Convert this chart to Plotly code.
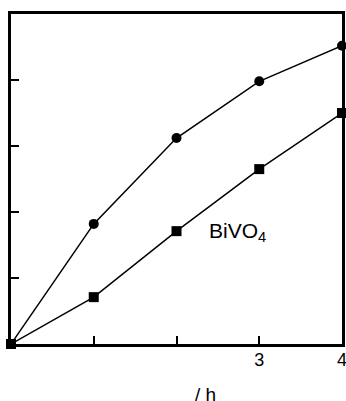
import plotly.graph_objects as go

time_h = [0, 1, 2, 3, 4]
series_circle = [0, 1.82, 3.12, 3.98, 4.52]
series_square = [0, 0.71, 1.71, 2.65, 3.5]
x_tickvals = [1, 2, 3, 4]
x_ticktext = ["", "", "3", "4"]
y_tickvals = [1, 2, 3, 4]

FONT = "Liberation Sans, Arial, sans-serif"

fig = go.Figure()
fig.add_trace(go.Scatter(x=time_h, y=series_circle, mode="lines+markers",
                         line=dict(color="black", width=1.5),
                         marker=dict(symbol="circle", size=10, color="black"),
                         cliponaxis=False, showlegend=False))
fig.add_trace(go.Scatter(x=time_h, y=series_square, mode="lines+markers",
                         line=dict(color="black", width=1.5),
                         marker=dict(symbol="square", size=10, color="black"),
                         cliponaxis=False, showlegend=False))

fig.add_annotation(x=2.37, y=1.7, xref="x", yref="y", text="BiVO<sub>4</sub>",
                   showarrow=False, xanchor="left", yanchor="middle",
                   font=dict(family=FONT, size=21, color="black"))
fig.add_annotation(x=0.589, y=-0.152, xref="paper", yref="paper", text="/ h",
                   showarrow=False, xanchor="center", yanchor="middle",
                   font=dict(family=FONT, size=19, color="black"))

fig.update_layout(
    width=346, height=401,
    margin=dict(l=11, r=4, t=14, b=57, autoexpand=False),
    paper_bgcolor="white", plot_bgcolor="white",
    font=dict(family=FONT, size=18, color="black"),
    xaxis=dict(range=[0, 4], tickvals=x_tickvals, ticktext=x_ticktext,
               ticks="inside", ticklen=8, tickwidth=2, tickcolor="black",
               showline=True, linecolor="black", linewidth=3, mirror=True,
               showgrid=False, zeroline=False, automargin=False,
               ticklabeloverflow="allow", ticklabelstandoff=-3,
               tickfont=dict(family=FONT, size=18, color="black")),
    yaxis=dict(range=[0, 5], tickvals=y_tickvals, showticklabels=False,
               ticks="inside", ticklen=8, tickwidth=2, tickcolor="black",
               showline=True, linecolor="black", linewidth=3, mirror=True,
               showgrid=False, zeroline=False, automargin=False),
)
fig.write_html("out.html", config={"displayModeBar": False},
               post_script="document.body.style.margin='0';document.body.style.overflow='hidden';")
